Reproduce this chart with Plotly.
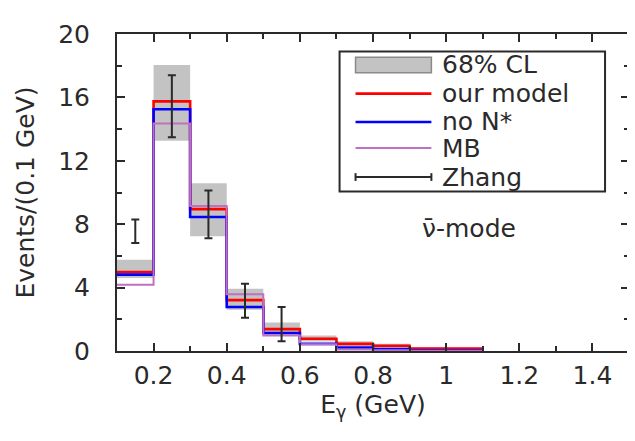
import plotly.graph_objects as go

# ---------------- data ----------------
bin_edges = [0.1, 0.2, 0.3, 0.4, 0.5, 0.6, 0.7, 0.8, 0.9, 1.0, 1.1]
bin_centers = [0.15, 0.25, 0.35, 0.45, 0.55, 0.65, 0.75, 0.85, 0.95, 1.05]

cl68_low = [4.6, 13.27, 7.24, 2.6, 1.0, 0.6, 0.3, 0.2, 0.1, 0.1]
cl68_high = [5.76, 18.05, 10.59, 3.93, 1.8, 0.98, 0.62, 0.45, 0.22, 0.2]

our_model = [4.98, 15.75, 8.95, 3.21, 1.38, 0.77, 0.45, 0.33, 0.16, 0.16]
no_nstar = [4.82, 15.25, 8.45, 2.78, 1.14, 0.45, 0.22, 0.12, 0.04, 0.04]
mb = [4.18, 14.35, 9.15, 3.58, 0.98, 0.42, 0.1, 0.05, 0.02, 0.02]

zhang_x = [0.15, 0.25, 0.35, 0.45, 0.55]
zhang_y = [7.55, 15.44, 8.62, 3.17, 1.69]
zhang_err = [0.74, 1.96, 1.5, 1.07, 1.08]

x_tickvals = [0.2, 0.4, 0.6, 0.8, 1.0, 1.2, 1.4]
x_ticktext = ["0.2", "0.4", "0.6", "0.8", "1", "1.2", "1.4"]
y_tickvals = [0, 4, 8, 12, 16, 20]
y_ticktext = ["0", "4", "8", "12", "16", "20"]

legend_labels = ["68% CL", "our model", "no N*", "MB", "Zhang"]

# ---------------- style ----------------
FONT = "DejaVu Sans"
AX = "#2a2a2a"
RED = "#ff0000"
BLUE = "#0000ff"
PURPLE = "#c070c0"
GRAY = "#c3c3c3"

W, H = 635, 441
X0, X1, Y0, Y1 = 109, 622, 15, 343


def px(xp):
    return (xp - X0) / (X1 - X0)


def py(yp):
    return (Y1 - yp) / (Y1 - Y0)


def step(vals):
    return list(vals) + [vals[-1]]


fig = go.Figure()

fig.add_trace(go.Bar(
    x=bin_centers, base=cl68_low,
    y=[h - l for h, l in zip(cl68_high, cl68_low)],
    width=0.1, marker=dict(color=GRAY, line=dict(width=0)),
    name=legend_labels[0], showlegend=False,
))

for vals, col, w, name in [(our_model, RED, 2.6, legend_labels[1]),
                           (no_nstar, BLUE, 2.6, legend_labels[2]),
                           (mb, PURPLE, 2.0, legend_labels[3])]:
    fig.add_trace(go.Scatter(
        x=bin_edges, y=step(vals), mode="lines", line_shape="hv",
        line=dict(color=col, width=w), name=name, showlegend=False,
    ))

fig.add_trace(go.Scatter(
    x=zhang_x, y=zhang_y, mode="markers",
    marker=dict(size=1, color=AX),
    error_y=dict(type="data", array=zhang_err, color=AX, thickness=2, width=4),
    name=legend_labels[4], showlegend=False,
))

# ---------------- custom legend ----------------
shapes = []
annotations = []
shapes.append(dict(type="rect", xref="paper", yref="paper",
                   x0=px(332), x1=px(598), y0=py(178), y1=py(33),
                   line=dict(color=AX, width=2), fillcolor="rgba(0,0,0,0)"))
rows = [46.7, 76.7, 106, 133, 163]
sx0, sx1 = px(348), px(424)
shapes.append(dict(type="rect", xref="paper", yref="paper",
                   x0=sx0, x1=sx1, y0=py(55), y1=py(39),
                   line=dict(color="#8a8a8a", width=1.5), fillcolor=GRAY))
for r, col, w in [(rows[1], RED, 2.6), (rows[2], BLUE, 2.6), (rows[3], PURPLE, 2.0)]:
    shapes.append(dict(type="line", xref="paper", yref="paper",
                       x0=sx0, x1=sx1, y0=py(r), y1=py(r),
                       line=dict(color=col, width=w)))
shapes.append(dict(type="line", xref="paper", yref="paper",
                   x0=sx0, x1=sx1, y0=py(rows[4]), y1=py(rows[4]),
                   line=dict(color=AX, width=2)))
for xx in (348, 424):
    shapes.append(dict(type="line", xref="paper", yref="paper",
                       x0=px(xx), x1=px(xx), y0=py(rows[4] - 4), y1=py(rows[4] + 4),
                       line=dict(color=AX, width=2)))
for r, lab in zip(rows, legend_labels):
    annotations.append(dict(xref="paper", yref="paper", x=px(433), y=py(r),
                            xanchor="left", yanchor="middle", text=lab,
                            showarrow=False, font=dict(family=FONT, size=25, color=AX)))

annotations.append(dict(xref="paper", yref="paper", x=px(462), y=py(216),
                        xanchor="center", yanchor="middle", text="\u03bd\u0304-mode",
                        showarrow=False, font=dict(family=FONT, size=25, color=AX)))

axis_common = dict(
    showline=True, linecolor=AX, linewidth=2, mirror="ticks",
    ticks="inside", ticklen=8, tickwidth=1.5, tickcolor=AX,
    showgrid=False, zeroline=False,
    tickfont=dict(family=FONT, size=25, color=AX),
)

fig.update_layout(
    width=W, height=H,
    margin=dict(l=X0, r=W - X1, t=Y0, b=H - Y1),
    paper_bgcolor="white", plot_bgcolor="white",
    barmode="overlay", showlegend=False,
    shapes=shapes, annotations=annotations,
    xaxis=dict(range=[0.1, 1.5], tickvals=x_tickvals, ticktext=x_ticktext,
               ticklabelstandoff=1,
               minor=dict(dtick=0.1, tick0=0.1, ticks="inside", ticklen=5,
                          tickcolor=AX, tickwidth=1.5),
               title=dict(text="E<sub>\u03b3</sub> (GeV)", standoff=4,
                          font=dict(family=FONT, size=25, color=AX)),
               **axis_common),
    yaxis=dict(range=[0, 20], tickvals=y_tickvals, ticktext=y_ticktext,
               ticklabelstandoff=20,
               minor=dict(dtick=2, tick0=0, ticks="inside", ticklen=5,
                          tickcolor=AX, tickwidth=1.5),
               title=dict(text="Events/(0.1 GeV)", standoff=16,
                          font=dict(family=FONT, size=25, color=AX)),
               **axis_common),
)

fig.write_html("out.html")
